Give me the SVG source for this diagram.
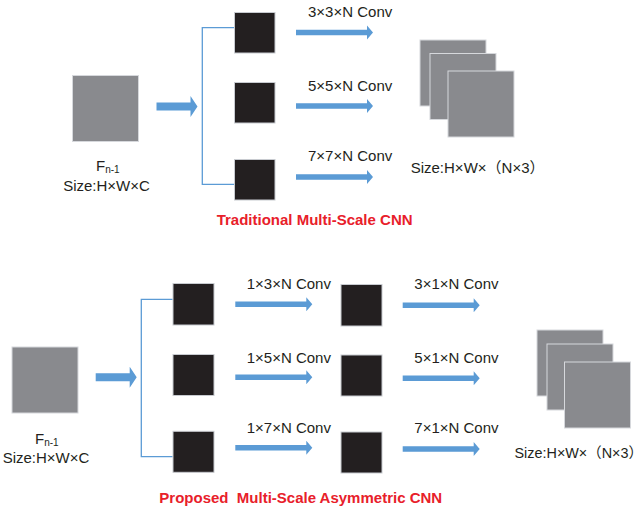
<svg xmlns="http://www.w3.org/2000/svg" xmlns:xlink="http://www.w3.org/1999/xlink" width="644" height="512" viewBox="0 0 644 512">
<style>
text{font-family:"Liberation Sans","Noto Sans CJK SC",sans-serif;font-size:15px;fill:#231F20}
.sub{font-size:10px}
.title{font-weight:bold;fill:#E8202A;white-space:pre}
.feat{fill:#898A8E;stroke:#D6D8DC;stroke-width:1}
.conv{fill:#231F20;stroke:#C8CBD0;stroke-width:1}
.arr{fill:#5B9BD5}
.br{fill:none;stroke:#5B9BD5;stroke-width:1.3}
</style>
<defs>
<path id="big" d="M0,-4 H34 V-10.5 L41,0 L34,10.5 V4 H0 Z"/>
<path id="small" d="M0,-2.8 H71 V-7 L77,0 L71,7 V2.8 H0 Z"/>
</defs>
<rect width="644" height="512" fill="#fff"/>

<g id="connectors">
<path class="br" d="M234,27.7 H202.3 V184.3 H234"/>
<path class="br" d="M172.7,299.3 H141.3 V456.7 H172.7"/>
<use class="arr" xlink:href="#big" x="156.5" y="106.5"/>
<use class="arr" xlink:href="#small" x="296" y="32.5"/>
<use class="arr" xlink:href="#small" x="296" y="106"/>
<use class="arr" xlink:href="#small" x="296" y="177"/>
<use class="arr" xlink:href="#big" x="95.7" y="377.3"/>
<use class="arr" xlink:href="#small" x="235.3" y="304.3"/>
<use class="arr" xlink:href="#small" x="235.3" y="377.3"/>
<use class="arr" xlink:href="#small" x="235.3" y="447.7"/>
<use class="arr" xlink:href="#small" x="402.7" y="305.3"/>
<use class="arr" xlink:href="#small" x="402.7" y="378.3"/>
<use class="arr" xlink:href="#small" x="402.7" y="449"/>
</g>

<g id="top-input">
<rect class="feat" x="72.5" y="75.5" width="66" height="66"/>
<text x="96" y="171">F<tspan class="sub" dy="2">n-1</tspan></text>
<text x="106.5" y="190.7" text-anchor="middle">Size:H×W×C</text>
</g>
<g id="top-conv3">
<rect class="conv" x="234.5" y="12.5" width="40.5" height="40.5"/>
<text x="308" y="17">3×3×N Conv</text>
</g>
<g id="top-conv5">
<rect class="conv" x="234.5" y="82.5" width="40.5" height="40.5"/>
<text x="308" y="90.7">5×5×N Conv</text>
</g>
<g id="top-conv7">
<rect class="conv" x="234.5" y="159.5" width="40.5" height="40.5"/>
<text x="308" y="161">7×7×N Conv</text>
</g>
<g id="top-output">
<rect class="feat" x="420" y="40" width="66" height="66"/>
<rect class="feat" x="430" y="53.5" width="66" height="66"/>
<rect class="feat" x="448" y="71" width="66" height="66"/>
<text x="410.7" y="172.7">Size:H×W×（N×3）</text>
</g>
<g id="top-title">
<text class="title" x="216.7" y="225">Traditional Multi-Scale CNN</text>
</g>

<g id="bottom-input">
<rect class="feat" x="12" y="347" width="66" height="66"/>
<text x="35" y="444">F<tspan class="sub" dy="2">n-1</tspan></text>
<text x="46" y="462.7" text-anchor="middle">Size:H×W×C</text>
</g>
<g id="bottom-conv1x3">
<rect class="conv" x="173" y="283.5" width="41" height="41.5"/>
<text x="246.7" y="289.3">1×3×N Conv</text>
</g>
<g id="bottom-conv1x5">
<rect class="conv" x="173" y="354.5" width="41" height="41"/>
<text x="246.7" y="362.7">1×5×N Conv</text>
</g>
<g id="bottom-conv1x7">
<rect class="conv" x="173" y="431.3" width="41" height="41"/>
<text x="246.7" y="433.3">1×7×N Conv</text>
</g>
<g id="bottom-conv3x1">
<rect class="conv" x="341" y="284.5" width="41" height="41.5"/>
<text x="414.3" y="289.3">3×1×N Conv</text>
</g>
<g id="bottom-conv5x1">
<rect class="conv" x="341" y="355" width="41" height="41"/>
<text x="414.3" y="362.7">5×1×N Conv</text>
</g>
<g id="bottom-conv7x1">
<rect class="conv" x="341" y="432" width="41" height="41"/>
<text x="414.3" y="433.3">7×1×N Conv</text>
</g>
<g id="bottom-output">
<rect class="feat" x="537" y="330" width="66" height="66"/>
<rect class="feat" x="547" y="344" width="66" height="66"/>
<rect class="feat" x="564.5" y="362" width="66" height="66"/>
<text x="514.5" y="458.3" style="font-size:14.4px">Size:H×W×（N×3）</text>
</g>
<g id="bottom-title">
<text class="title" x="159.3" y="502.7">Proposed  Multi-Scale Asymmetric CNN</text>
</g>
</svg>
